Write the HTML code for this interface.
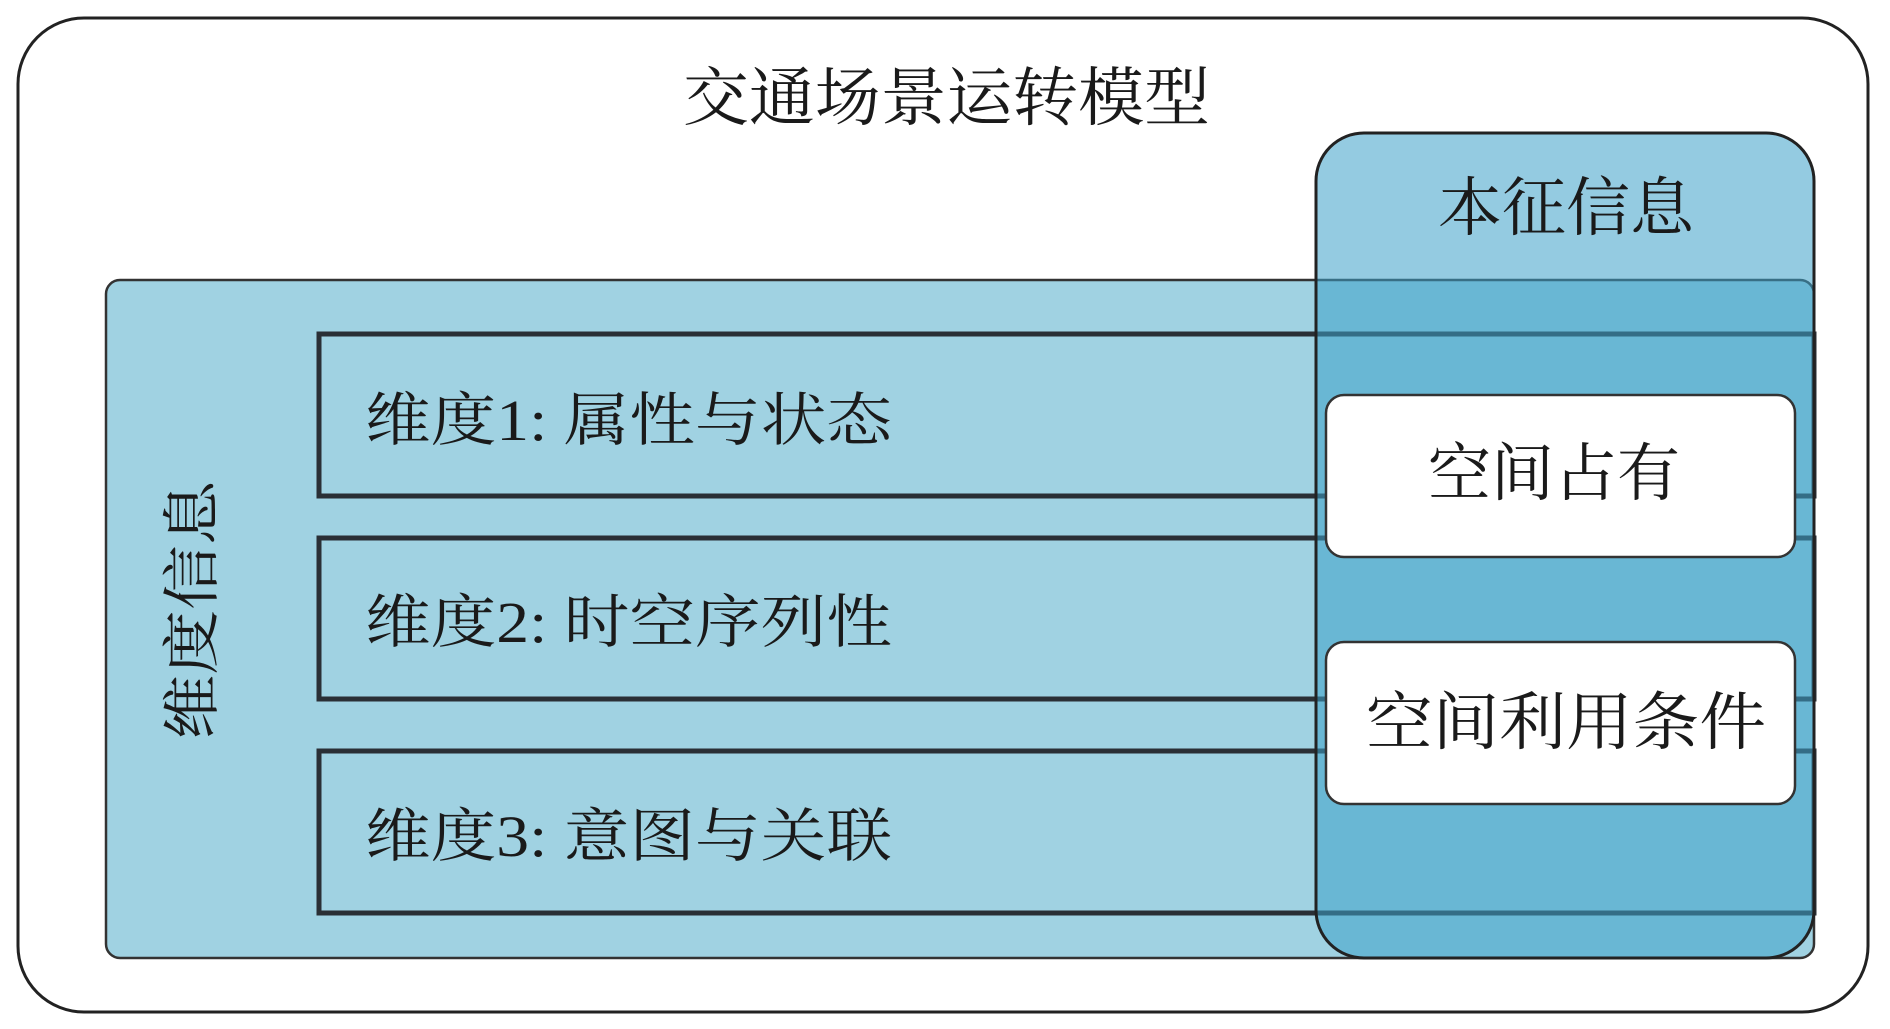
<!DOCTYPE html>
<html><head><meta charset="utf-8"><style>
html,body{margin:0;padding:0;background:#fff;width:1890px;height:1029px;overflow:hidden}
text{font-family:"Liberation Serif","Noto Serif CJK SC",serif;fill:#1a1a1a}
</style></head><body>
<svg width="1890" height="1029" viewBox="0 0 1890 1029" xmlns="http://www.w3.org/2000/svg">
<rect x="18" y="18" width="1850" height="994" rx="66" fill="#fff" stroke="#222" stroke-width="3"/>
<text x="683" y="120" font-size="64" textLength="527" lengthAdjust="spacingAndGlyphs">交通场景运转模型</text>
<rect x="106" y="280" width="1708" height="678" rx="14" fill="#a0d2e2" stroke="#333" stroke-width="2.5"/>
<rect x="319" y="334" width="1495" height="162" fill="#a0d2e2" stroke="#2a2f35" stroke-width="5"/>
<rect x="319" y="538" width="1495" height="161" fill="#a0d2e2" stroke="#2a2f35" stroke-width="5"/>
<rect x="319" y="751" width="1495" height="162" fill="#a0d2e2" stroke="#2a2f35" stroke-width="5"/>
<text x="365" y="440" font-size="58" textLength="527" lengthAdjust="spacingAndGlyphs">维度1: 属性与状态</text>
<text x="365" y="642" font-size="58" textLength="527" lengthAdjust="spacingAndGlyphs">维度2: 时空序列性</text>
<text x="365" y="856" font-size="58" textLength="527" lengthAdjust="spacingAndGlyphs">维度3: 意图与关联</text>
<text transform="translate(212,610) rotate(-90)" font-size="58" text-anchor="middle" textLength="259" lengthAdjust="spacingAndGlyphs">维度信息</text>
<rect x="1316" y="133" width="498" height="825" rx="48" fill="rgba(60,160,200,0.55)" stroke="#222" stroke-width="3"/>
<text x="1566" y="230" font-size="64" text-anchor="middle">本征信息</text>
<rect x="1326" y="395" width="469" height="162" rx="18" fill="#fff" stroke="#333" stroke-width="2.5"/>
<rect x="1326" y="642" width="469" height="162" rx="18" fill="#fff" stroke="#333" stroke-width="2.5"/>
<text x="1554" y="495" font-size="63" text-anchor="middle">空间占有</text>
<text x="1366" y="744" font-size="63" textLength="400" lengthAdjust="spacingAndGlyphs">空间利用条件</text>
</svg>
</body></html>
